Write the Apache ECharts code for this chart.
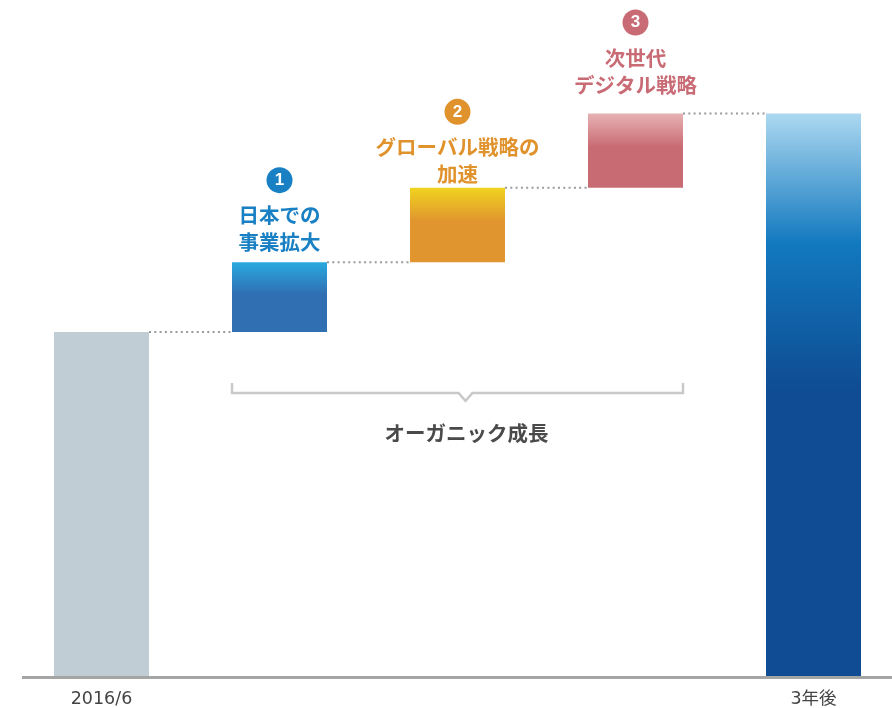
<!DOCTYPE html>
<html>
<head>
<meta charset="utf-8">
<script src="https://cdn.jsdelivr.net/npm/echarts@6/dist/echarts.min.js"></script>
<style>
  html, body { margin: 0; padding: 0; background: #fff; }
  #main { width: 892px; height: 708px; }
</style>
</head>
<body>
<div id="main"></div>
<script>
  // data
  var categories = ['2016/6', '日本での事業拡大', 'グローバル戦略の加速', '次世代デジタル戦略', '3年後']
  var tickLabels = ['2016/6', '', '', '', '3年後']
  var baseValue = 100
  var stepValues = [20.3, 21.6, 21.6]
  var totalValue = 163.5
  var stepTitles = [['日本での', '事業拡大'], ['グローバル戦略の', '加速'], ['次世代', 'デジタル戦略']]
  var bracketText = 'オーガニック成長'

  var JP = '"Noto Sans CJK JP", sans-serif'
  var stepColors = ['#1a80c4', '#e0922c', '#c96b75']
  var barGrad = [
    [[0, '#c1cdd4'], [1, '#c1cdd4']],
    [[0, '#29a9e0'], [0.45, '#3070b2'], [1, '#3070b2']],
    [[0, '#f0d31f'], [0.45, '#e0952e'], [1, '#e0952e']],
    [[0, '#e6b2b4'], [0.45, '#c96b73'], [1, '#c96b73']],
    [[0, '#acd8f0'], [0.23, '#1279bf'], [0.49, '#0f4c93'], [1, '#0f4c93']]
  ]
  var labelDist = [6, 0, 15]
  var BAR_W = 95

  function grad (stops) {
    return new echarts.graphic.LinearGradient(0, 0, 0, 1,
      stops.map(function (s) { return { offset: s[0], color: s[1] } }))
  }

  // waterfall: hidden offset + visible value
  var values = [baseValue].concat(stepValues).concat([totalValue])
  var offsets = [0]
  var run = baseValue
  stepValues.forEach(function (v) { offsets.push(run); run += v })
  offsets.push(0)
  var levels = []   // top of each bar except last
  for (var i = 0; i < 4; i++) levels.push(offsets[i] + values[i])

  var rich = {}
  stepColors.forEach(function (c, k) {
    rich['b' + k] = {
      width: 26, height: 26, lineHeight: 26, borderRadius: 13,
      backgroundColor: c, color: '#fff', fontSize: 17, fontWeight: 'bold',
      fontFamily: 'Arial, "Liberation Sans", sans-serif', align: 'center'
    }
    rich['t' + k] = {
      color: c, fontSize: 20.5, fontWeight: 'bold', lineHeight: 27, fontFamily: JP
    }
  })
  rich.sp = { fontSize: 1, lineHeight: 9 }

  var valueData = values.map(function (v, idx) {
    var item = { value: v, itemStyle: { color: grad(barGrad[idx]) } }
    if (idx >= 1 && idx <= 3) {
      var k = idx - 1
      item.label = {
        show: true,
        position: 'top',
        distance: labelDist[k],
        formatter: '{b' + k + '|' + (k + 1) + '}\n{sp| }\n' +
          stepTitles[k].map(function (t) { return '{t' + k + '|' + t + '}' }).join('\n'),
        rich: rich
      }
    }
    return item
  })

  var option = {
    animation: false,
    backgroundColor: '#fff',
    grid: { left: 12.5, width: 890, top: 56.8, height: 619.2, outerBoundsMode: 'none' },
    xAxis: {
      type: 'category',
      data: categories,
      axisLine: { show: false },
      axisTick: { show: false },
      axisLabel: {
        margin: 15,
        fontSize: 17.5,
        color: '#444',
        fontFamily: '"DejaVu Sans", "Noto Sans CJK JP", sans-serif',
        formatter: function (v, idx) { return tickLabels[idx] }
      }
    },
    yAxis: { type: 'value', min: 0, max: 180, show: false, splitLine: { show: false } },
    series: [
      {
        name: 'offset', type: 'bar', stack: 'wf', barWidth: BAR_W,
        itemStyle: { color: 'transparent' }, data: offsets, silent: true
      },
      {
        name: 'value', type: 'bar', stack: 'wf', barWidth: BAR_W,
        data: valueData
      },
      {
        // dotted connectors between bars
        type: 'custom',
        data: levels.map(function (l, idx) { return [idx, l] }),
        renderItem: function (params, api) {
          var p = api.coord([api.value(0), api.value(1)])
          var band = api.size([1, 0])[0]
          return {
            type: 'line',
            shape: { x1: p[0] + BAR_W / 2, y1: p[1], x2: p[0] + band - BAR_W / 2, y2: p[1] },
            style: { stroke: '#9a9a9a', lineWidth: 2, lineDash: [2, 3.3] }
          }
        },
        z: 1
      },
      {
        // bracket under the organic steps
        type: 'custom',
        data: [[1, 3, 82.3]],
        renderItem: function (params, api) {
          var a = api.coord([api.value(0), api.value(2)])
          var b = api.coord([api.value(1), api.value(2)])
          var x1 = a[0] - BAR_W / 2
          var x2 = b[0] + BAR_W / 2
          var y = a[1]
          var cx = (x1 + x2) / 2 + 8
          return {
            type: 'group',
            children: [
              {
                type: 'polyline',
                shape: { points: [[x1, y - 10], [x1, y], [cx - 7, y], [cx, y + 8], [cx + 7, y], [x2, y], [x2, y - 10]] },
                style: { stroke: '#c9c9c9', lineWidth: 2.5, fill: null }
              },
              {
                type: 'text',
                x: cx + 1, y: y + 40,
                style: {
                  text: bracketText, fill: '#4a4a4a', fontSize: 20.5, fontWeight: 'bold',
                  fontFamily: JP, align: 'center', verticalAlign: 'middle'
                }
              }
            ]
          }
        }
      }
    ]
  }

  var chart = echarts.init(document.getElementById('main'))
  chart.setOption(option)

  // base line
  var y0 = chart.convertToPixel({ yAxisIndex: 0 }, 0)
  chart.setOption({
    graphic: [{
      type: 'line',
      shape: { x1: 22, y1: y0 + 1.5, x2: 892, y2: y0 + 1.5 },
      style: { stroke: '#a5a5a5', lineWidth: 3 },
      z: 10
    }]
  })
  window.addEventListener('resize', chart.resize)
</script>
</body>
</html>
